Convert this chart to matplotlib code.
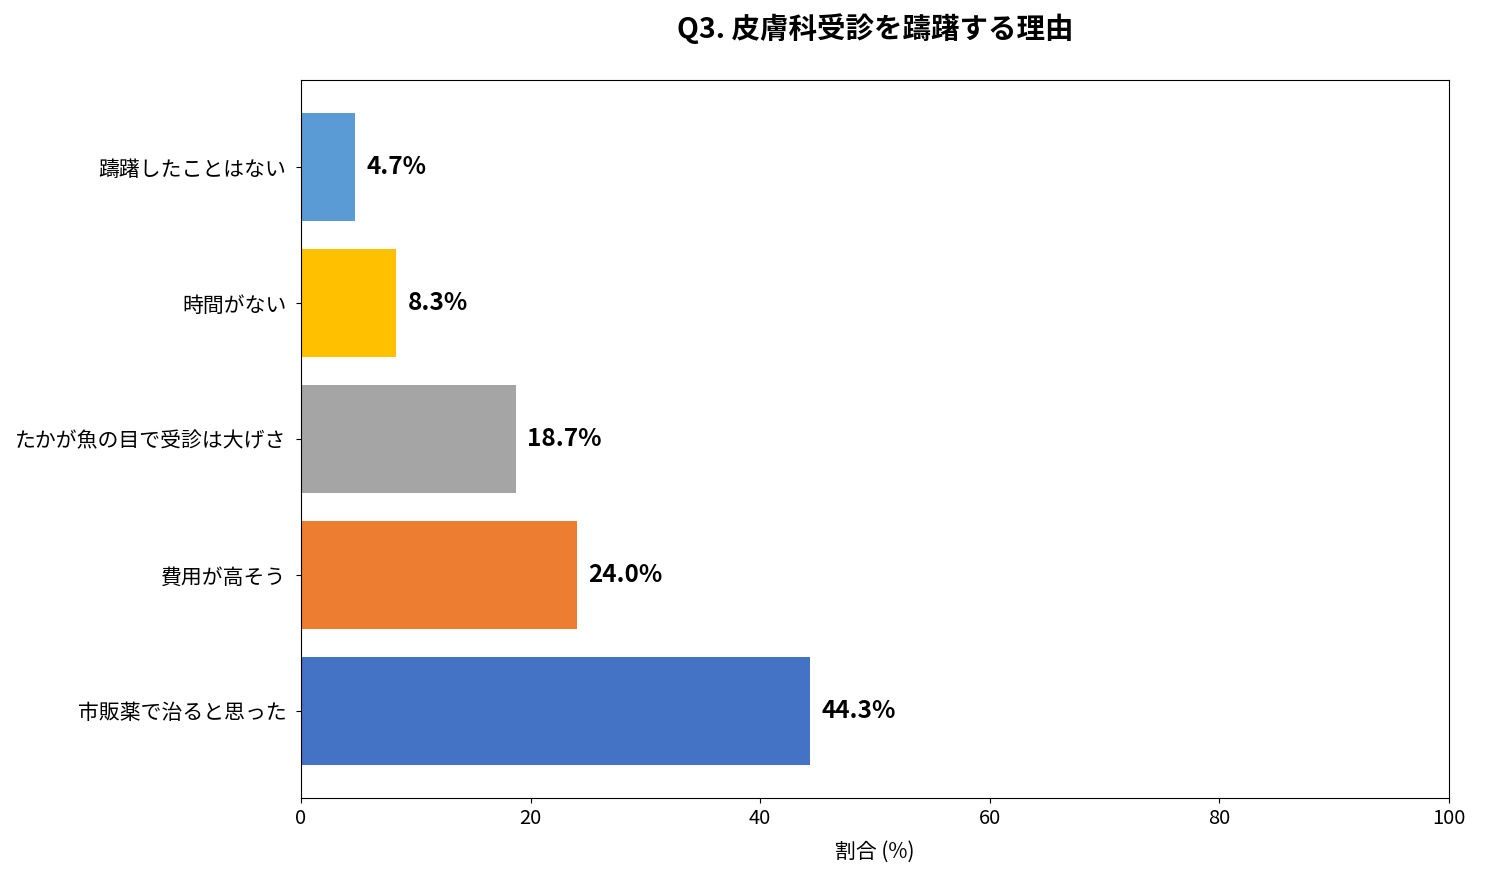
import matplotlib
matplotlib.use("Agg")
import matplotlib.pyplot as plt

plt.rcParams['font.family'] = ['Noto Sans CJK JP', 'DejaVu Sans']

categories = ["市販薬で治ると思った", "費用が高そう", "たかが魚の目で受診は大げさ", "時間がない", "躊躇したことはない"]
values = [44.3, 24.0, 18.7, 8.3, 4.7]
colors = ["#4472C4", "#ED7D31", "#A5A5A5", "#FFC000", "#5B9BD5"]

fig = plt.figure(figsize=(14.85, 8.81), dpi=100)
ax = fig.add_axes([0.2027, 0.0942, 0.7731, 0.815])

bars = ax.barh(categories, values, color=colors, height=0.8)
for bar, v in zip(bars, values):
    ax.text(bar.get_width() + 1, bar.get_y() + bar.get_height() / 2, f"{v:.1f}%",
            va="center", ha="left", fontsize=17.5, fontweight="bold")

ax.set_xlim(0, 100)
ax.set_xlabel("割合 (%)", fontsize=15, labelpad=9)
ax.tick_params(axis="x", labelsize=14.5)
ax.tick_params(axis="y", labelsize=15, pad=7)
ax.set_title("Q3. 皮膚科受診を躊躇する理由", fontsize=20.5, fontweight="bold", pad=30)

fig.savefig("out.png", dpi=100)
